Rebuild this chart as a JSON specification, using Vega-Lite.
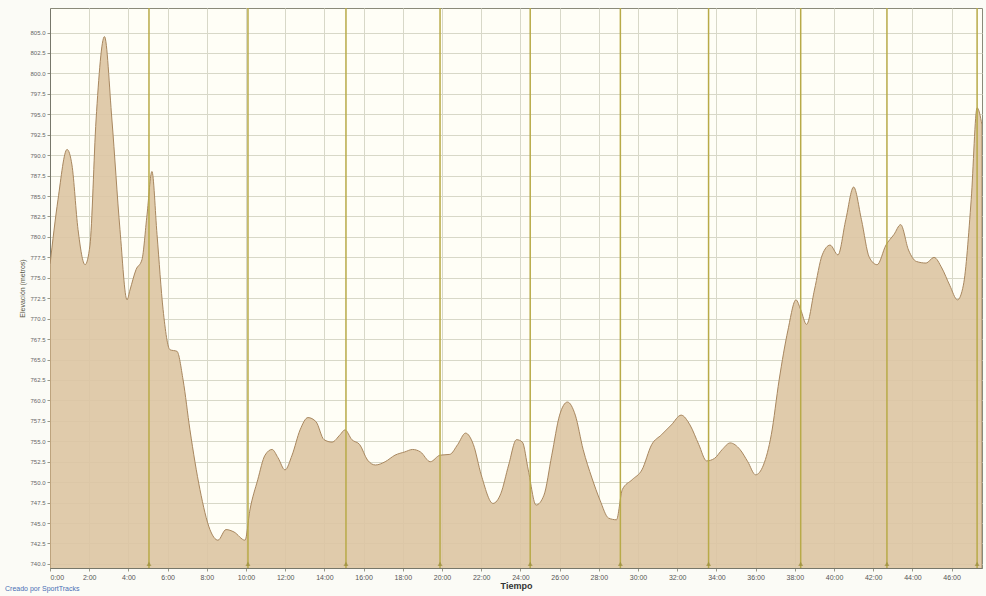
{
  "$schema": "https://vega.github.io/schema/vega-lite/v6.json",
  "autosize": "none",
  "width": 932,
  "height": 560,
  "padding": {"left": 50, "top": 8, "right": 4, "bottom": 28},
  "background": "#fbfbf6",
  "config": {
    "view": {"fill": "#fffef6", "stroke": "#8a8a7a", "strokeWidth": 1},
    "font": "Liberation Sans"
  },
  "title": {
    "text": "Creado por SportTracks",
    "orient": "bottom",
    "anchor": "start",
    "frame": "group",
    "fontSize": 7,
    "fontWeight": "normal",
    "color": "#4a6fb5",
    "offset": -5,
    "dx": -45
  },
  "datasets": {
    "profile": [
      {"t": 0, "elev": 776.6}, {"t": 0.41, "elev": 784.6}, {"t": 0.87, "elev": 790.7}, {"t": 1.12, "elev": 788.8},
      {"t": 1.43, "elev": 780.9}, {"t": 1.79, "elev": 776.6}, {"t": 2.04, "elev": 779.0}, {"t": 2.35, "elev": 794.3},
      {"t": 2.78, "elev": 804.5}, {"t": 3.16, "elev": 794.3}, {"t": 3.57, "elev": 780.9},
      {"t": 3.93, "elev": 772.3}, {"t": 4.08, "elev": 773.5}, {"t": 4.39, "elev": 776.0}, {"t": 4.69, "elev": 777.2},
      {"t": 4.95, "elev": 782.7}, {"t": 5.2, "elev": 788.0}, {"t": 5.46, "elev": 780.3}, {"t": 5.77, "elev": 771.1},
      {"t": 6.12, "elev": 766.2}, {"t": 6.48, "elev": 766.0}, {"t": 6.79, "elev": 762.5}, {"t": 7.14, "elev": 756.4},
      {"t": 7.65, "elev": 749.1}, {"t": 8.16, "elev": 744.2}, {"t": 8.57, "elev": 742.9}, {"t": 8.98, "elev": 744.2},
      {"t": 9.39, "elev": 743.9}, {"t": 9.95, "elev": 742.9}, {"t": 10.2, "elev": 746.6}, {"t": 10.6, "elev": 750.3},
      {"t": 10.97, "elev": 753.3}, {"t": 11.33, "elev": 754.0}, {"t": 11.63, "elev": 753.0}, {"t": 11.99, "elev": 751.5},
      {"t": 12.35, "elev": 753.3}, {"t": 12.76, "elev": 756.4}, {"t": 13.16, "elev": 757.9}, {"t": 13.57, "elev": 757.4},
      {"t": 13.98, "elev": 755.2}, {"t": 14.39, "elev": 754.9}, {"t": 14.8, "elev": 755.8}, {"t": 15.05, "elev": 756.4},
      {"t": 15.4, "elev": 755.2}, {"t": 15.8, "elev": 754.6}, {"t": 16.2, "elev": 752.7}, {"t": 16.6, "elev": 752.1},
      {"t": 17.1, "elev": 752.5}, {"t": 17.6, "elev": 753.3}, {"t": 18.1, "elev": 753.7}, {"t": 18.5, "elev": 754.0},
      {"t": 18.9, "elev": 753.7}, {"t": 19.4, "elev": 752.5}, {"t": 19.9, "elev": 753.3}, {"t": 20.4, "elev": 753.4},
      {"t": 20.8, "elev": 754.6}, {"t": 21.2, "elev": 756.0}, {"t": 21.6, "elev": 754.6}, {"t": 22.0, "elev": 750.9},
      {"t": 22.6, "elev": 747.4}, {"t": 23.0, "elev": 748.6}, {"t": 23.4, "elev": 752.1}, {"t": 23.8, "elev": 755.2},
      {"t": 24.1, "elev": 754.9}, {"t": 24.4, "elev": 751.5}, {"t": 24.8, "elev": 747.2}, {"t": 25.2, "elev": 748.4},
      {"t": 25.6, "elev": 753.3}, {"t": 26.0, "elev": 758.2}, {"t": 26.4, "elev": 759.8}, {"t": 26.8, "elev": 758.2},
      {"t": 27.2, "elev": 754.0}, {"t": 27.65, "elev": 750.5}, {"t": 28.06, "elev": 747.8}, {"t": 28.5, "elev": 745.6},
      {"t": 28.9, "elev": 745.4}, {"t": 29.2, "elev": 749.1}, {"t": 29.7, "elev": 750.3}, {"t": 30.2, "elev": 751.5},
      {"t": 30.7, "elev": 754.6}, {"t": 31.2, "elev": 755.8}, {"t": 31.7, "elev": 757.0}, {"t": 32.2, "elev": 758.2},
      {"t": 32.65, "elev": 757.0}, {"t": 33.1, "elev": 754.6}, {"t": 33.5, "elev": 752.6}, {"t": 33.9, "elev": 752.9},
      {"t": 34.3, "elev": 754.0}, {"t": 34.7, "elev": 754.8}, {"t": 35.2, "elev": 754.0}, {"t": 35.6, "elev": 752.5},
      {"t": 36.0, "elev": 750.9}, {"t": 36.4, "elev": 752.1}, {"t": 36.8, "elev": 755.8}, {"t": 37.2, "elev": 762.5},
      {"t": 37.65, "elev": 768.6}, {"t": 38.06, "elev": 772.3}, {"t": 38.3, "elev": 771.1}, {"t": 38.6, "elev": 769.3},
      {"t": 39.0, "elev": 773.5}, {"t": 39.4, "elev": 777.8}, {"t": 39.8, "elev": 779.0}, {"t": 40.2, "elev": 777.8},
      {"t": 40.6, "elev": 782.1}, {"t": 41.0, "elev": 786.1}, {"t": 41.4, "elev": 782.1}, {"t": 41.8, "elev": 777.5},
      {"t": 42.2, "elev": 776.6}, {"t": 42.65, "elev": 779.0}, {"t": 43.06, "elev": 780.3}, {"t": 43.4, "elev": 781.5},
      {"t": 43.8, "elev": 778.4}, {"t": 44.2, "elev": 777.0}, {"t": 44.7, "elev": 776.8}, {"t": 45.1, "elev": 777.5},
      {"t": 45.5, "elev": 776.2}, {"t": 45.9, "elev": 774.1}, {"t": 46.3, "elev": 772.3}, {"t": 46.6, "elev": 774.1},
      {"t": 47.0, "elev": 784.6}, {"t": 47.3, "elev": 795.8}, {"t": 47.55, "elev": 793.7}
    ],
    "laps": [
      {"t": 5.05}, {"t": 10.1}, {"t": 15.1}, {"t": 19.9}, {"t": 24.5},
      {"t": 29.1}, {"t": 33.6}, {"t": 38.3}, {"t": 42.7}, {"t": 47.3}
    ]
  },
  "layer": [
    {
      "data": {"name": "profile"},
      "mark": {"type": "area", "clip": true, "interpolate": "monotone", "fill": "#ddc5a3", "fillOpacity": 0.9, "stroke": "#a8875f", "strokeWidth": 1},
      "encoding": {
        "x": {
          "field": "t", "type": "quantitative",
          "scale": {"domain": [0, 47.55], "nice": false, "zero": false},
          "axis": {
            "title": "Tiempo", "titleFontSize": 9, "titleFontWeight": "bold", "titleColor": "#333333", "titlePadding": 1,
            "values": [0,2,4,6,8,10,12,14,16,18,20,22,24,26,28,30,32,34,36,38,40,42,44,46],
            "labelExpr": "datum.value + ':00'", "labelOverlap": false,
            "labelFontSize": 7, "labelColor": "#555555", "labelPadding": 2,
            "tickSize": 3, "tickColor": "#999988", "domain": true, "domainColor": "#77776a",
            "grid": true, "gridColor": "#d8d8c8", "gridWidth": 1
          }
        },
        "y": {
          "field": "elev", "type": "quantitative",
          "scale": {"domain": [739.5, 808], "nice": false, "zero": false},
          "axis": {
            "title": "Elevación (metros)", "titleFontSize": 7, "titleFontWeight": "normal", "titleColor": "#555544", "titlePadding": 4,
            "values": [740,742.5,745,747.5,750,752.5,755,757.5,760,762.5,765,767.5,770,772.5,775,777.5,780,782.5,785,787.5,790,792.5,795,797.5,800,802.5,805],
            "tickCount": 27,
            "format": ".1f", "labelOverlap": false,
            "labelFontSize": 6, "labelColor": "#666666", "labelPadding": 2,
            "tickSize": 3, "tickColor": "#999988", "domain": true, "domainColor": "#77776a",
            "grid": true, "gridColor": "#d8d8c8", "gridWidth": 1
          }
        }
      }
    },
    {
      "data": {"name": "laps"},
      "mark": {"type": "rule", "color": "#b8aa48", "strokeWidth": 1.5},
      "encoding": {"x": {"field": "t", "type": "quantitative"}}
    },
    {
      "data": {"name": "laps"},
      "mark": {"type": "point", "shape": "triangle-up", "filled": true, "color": "#9a8d3a", "size": 25},
      "encoding": {"x": {"field": "t", "type": "quantitative"}, "y": {"datum": 740, "type": "quantitative"}}
    }
  ]
}
